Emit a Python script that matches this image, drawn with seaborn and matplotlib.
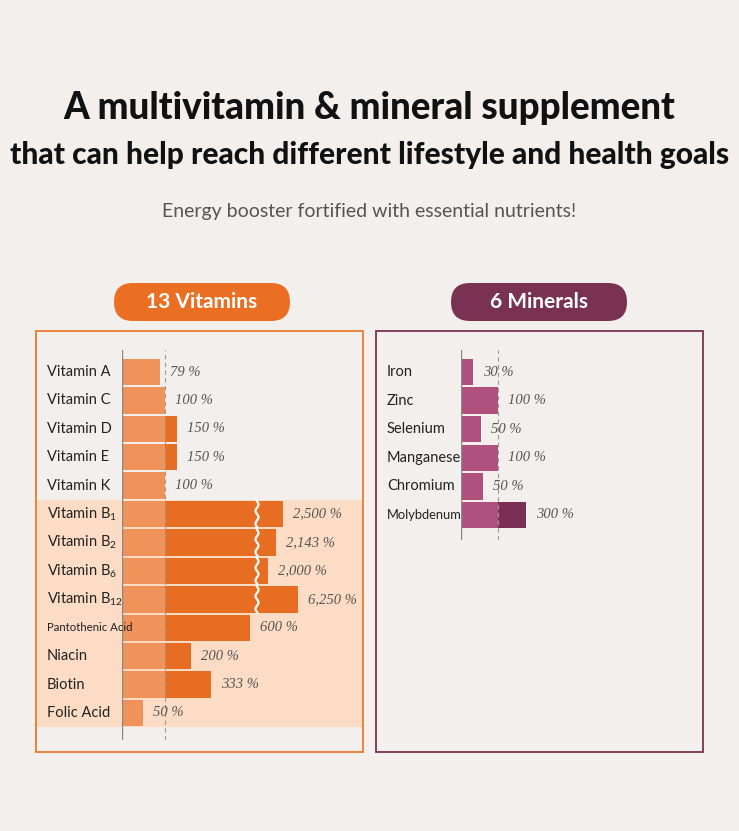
import numpy as np
import matplotlib
matplotlib.use("Agg")
import matplotlib.pyplot as plt
from matplotlib.patches import Rectangle, FancyBboxPatch
import seaborn as sns

plt.rcParams["mathtext.fontset"] = "custom"
plt.rcParams["mathtext.rm"] = "Lato"

# data (values as printed, bar lengths as drawn, 100% = reference line)
vit_names = ["Vitamin A", "Vitamin C", "Vitamin D", "Vitamin E", "Vitamin K",
             "Vitamin B$_1$", "Vitamin B$_2$", "Vitamin B$_6$", "Vitamin B$_{12}$",
             "Pantothenic Acid", "Niacin", "Biotin", "Folic Acid"]
vit_labels = ["79", "100", "150", "150", "100", "2,500", "2,143", "2,000",
              "6,250", "600", "200", "333", "50"]
vit_shown = [88, 100, 128, 128, 100, 374, 358, 340, 409, 298, 160, 207, 49]  # % of 100-line, broken scale

min_names = ["Iron", "Zinc", "Selenium", "Manganese", "Chromium", "Molybdenum"]
min_labels = ["30", "100", "50", "100", "50", "300"]
min_shown = [32, 100, 54, 100, 60, 176]

BG = "#f3efec"
W, H = 739, 831
fig = plt.figure(figsize=(W / 100, H / 100), dpi=100, facecolor=BG)

def fax(x0, y0, x1, y1):
    return fig.add_axes([x0 / W, 1 - y1 / H, (x1 - x0) / W, (y1 - y0) / H])

# background/page layer in pixel coords
bg = fax(0, 0, W, H)
bg.set_xlim(0, W); bg.set_ylim(H, 0); bg.axis("off")
bg.text(W / 2, 108, "A multivitamin & mineral supplement", ha="center", va="center",
        fontsize=26.5, fontweight="heavy", family="Lato", color="#111")
bg.text(W / 2, 155, "that can help reach different lifestyle and health goals", ha="center",
        va="center", fontsize=21.5, fontweight="heavy", family="Lato", color="#111")
bg.text(W / 2, 212, "Energy booster fortified with essential nutrients!", ha="center",
        va="center", fontsize=14, family="Lato", color="#555")
bg.add_patch(Rectangle((36, 331), 327, 421, fill=False, ec="#ea7a2e", lw=1.3))
bg.add_patch(Rectangle((376, 331), 327, 421, fill=False, ec="#7a3252", lw=1.3))
bg.add_patch(Rectangle((37, 500), 325, 227, fc="#fcdcc4", ec="none"))
for cx, txt, col in [(202, "13 Vitamins", "#ea6f22"), (539, "6 Minerals", "#7a3252")]:
    bg.add_patch(FancyBboxPatch((cx - 88, 283), 176, 38, boxstyle="round,pad=0,rounding_size=19",
                                fc=col, ec="none"))
    bg.text(cx, 302, txt, ha="center", va="center", fontsize=15, fontweight="bold",
            family="Lato", color="white")

def panel(x_axis, px100, y_first, y_last, y_top, y_bot, names, labels, shown,
          c_light, c_dark, label_x, breaks=()):
    n = len(names)
    sp = (y_last - y_first) / (n - 1)
    ax = fax(x_axis, y_top, x_axis + 240, y_bot)
    ax.set_facecolor("none")
    lengths = [s * px100 / 100 for s in shown]
    light = [min(l, px100) for l in lengths]
    idx = [str(i) for i in range(n)]
    sns.barplot(x=lengths, y=idx, orient="h", color=c_dark, width=0.93, saturation=1, ax=ax)
    sns.barplot(x=light, y=idx, orient="h", color=c_light, width=0.93, saturation=1, ax=ax)
    ax.set_xlim(0, 240)
    ax.set_ylim((y_bot - y_first) / sp, -(y_first - y_top) / sp)
    ax.axis("off")
    ax.axvline(0, color="#888", lw=1)
    ax.axvline(px100, color="#999", lw=0.8, ls=(0, (4, 3)))
    for i in range(n):
        fs = 10.5
        if names[i] == "Pantothenic Acid":
            fs = 8.2
        elif names[i] == "Molybdenum":
            fs = 9.3
        ax.text(label_x - x_axis, i, names[i], ha="left", va="center",
                fontsize=fs, family="Lato", color="#222", clip_on=False)
        ax.text(lengths[i] + 10, i, f"{labels[i]} %", ha="left", va="center", fontsize=10.5,
                family="Liberation Serif", style="italic", color="#555")
    for i in breaks:
        yy = np.linspace(i - 0.46, i + 0.46, 40)
        ax.plot(135 + 1.5 * np.sin((yy - i) * 14), yy, color="white", lw=1.6)
    return ax

panel(122, 43, 372, 713, 350, 740, vit_names, vit_labels, vit_shown,
      "#f0935a", "#e76d22", 47, breaks=(5, 6, 7, 8))
panel(461, 37, 372, 515, 350, 540, min_names, min_labels, min_shown,
      "#b0507e", "#7c2f54", 387)

fig.savefig("out.png", dpi=100, facecolor=BG)
